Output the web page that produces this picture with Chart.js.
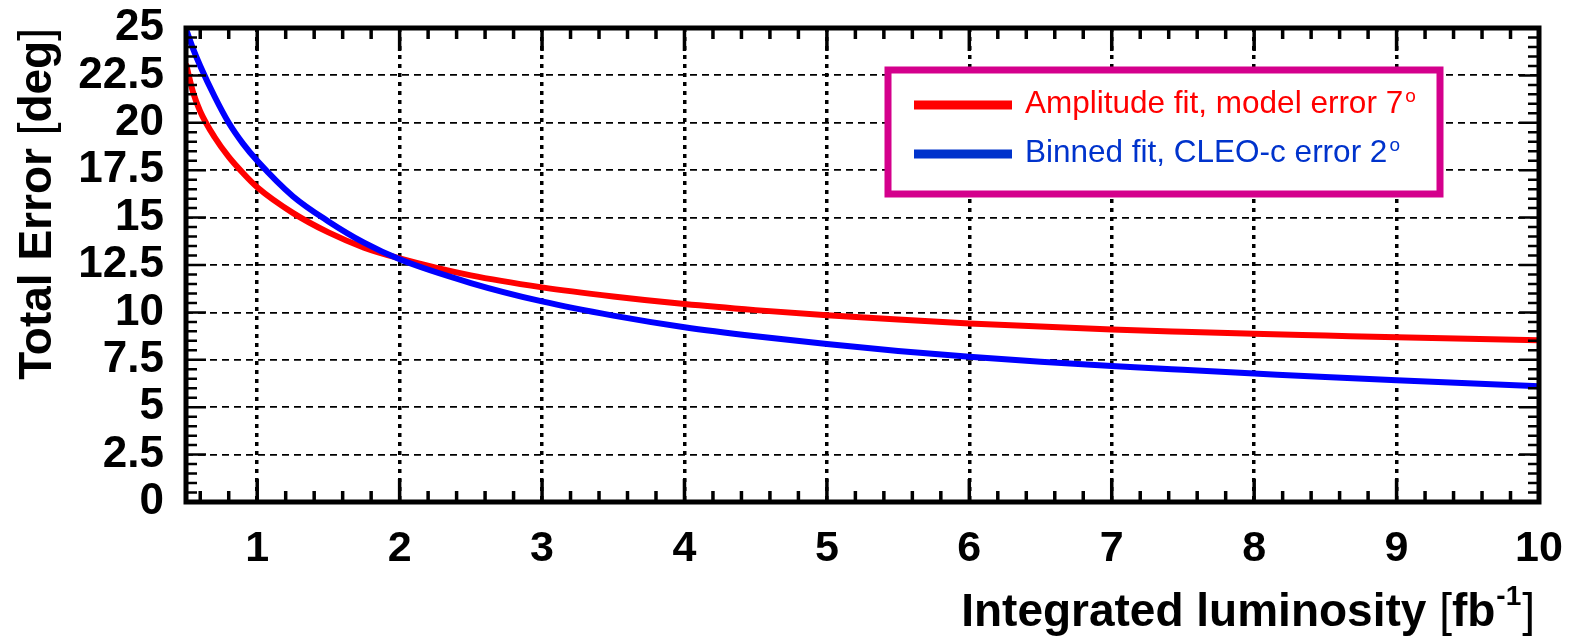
<!DOCTYPE html>
<html>
<head>
<meta charset="utf-8">
<script src="https://cdn.jsdelivr.net/npm/chart.js@4.4.0/dist/chart.umd.min.js"></script>
<style>
body{margin:0;background:#fff}
</style>
</head>
<body>
<canvas id="myChart" width="1569" height="636"></canvas>
<script>
// integrated luminosity [fb^-1]
var lumi = [0.5, 0.55, 0.6, 0.7, 0.8, 0.9, 1, 1.25, 1.5, 1.75, 2, 2.5, 3, 3.5, 4, 4.5, 5, 5.5, 6, 6.5, 7, 7.5, 8, 8.5, 9, 9.5, 10]
// total error [deg]
var amplitudeErr = [23.1, 21.6, 20.6, 19.25, 18.2, 17.35, 16.6, 15.25, 14.22, 13.42, 12.85, 11.95, 11.32, 10.84, 10.44, 10.12, 9.85, 9.62, 9.42, 9.25, 9.1, 8.98, 8.87, 8.78, 8.69, 8.61, 8.53]
var binnedErr = [24.95, 23.9, 23.0, 21.4, 20.0, 18.9, 18.0, 16.13, 14.8, 13.68, 12.8, 11.55, 10.58, 9.83, 9.22, 8.74, 8.33, 7.97, 7.66, 7.4, 7.17, 6.97, 6.78, 6.59, 6.42, 6.26, 6.1]

var xTicks = [1, 2, 3, 4, 5, 6, 7, 8, 9, 10]
var yTicks = [0, 2.5, 5, 7.5, 10, 12.5, 15, 17.5, 20, 22.5, 25]
var seriesNames = ["Amplitude fit, model error 7", "Binned fit, CLEO-c error 2"]
var seriesSup = ["o", "o"]
var seriesColors = ["#ff0000", "#0000ff"]
var legendColors = ["#ff0000", "#0033cc"]

var FONT = "'Liberation Sans', Arial, sans-serif"

function pts(xs, ys){
    var out = []
    for (var i = 0; i < xs.length; i++) out.push({x: xs[i], y: ys[i]})
    return out
}

// frame with ROOT-like minor/major ticks on all four sides
var framePlugin = {
    id: 'frame',
    afterDatasetsDraw: function(chart){
        var ctx = chart.ctx, a = chart.chartArea
        var xs = chart.scales.x, ys = chart.scales.y
        ctx.save()
        ctx.strokeStyle = '#000'
        ctx.lineCap = 'butt'
        ctx.lineWidth = 3.5
        for (var i = 3; i < 50; i++){
            var px = xs.getPixelForValue(i / 5)
            var len = (i % 5 == 0) ? 23 : 11
            ctx.beginPath()
            ctx.moveTo(px, a.bottom); ctx.lineTo(px, a.bottom - len)
            ctx.moveTo(px, a.top); ctx.lineTo(px, a.top + len)
            ctx.stroke()
        }
        ctx.lineWidth = 2.5
        for (var j = 1; j < 50; j++){
            var py = ys.getPixelForValue(j * 0.5)
            var l2 = (j % 5 == 0) ? 20 : 11
            ctx.beginPath()
            ctx.moveTo(a.left, py); ctx.lineTo(a.left + l2, py)
            ctx.moveTo(a.right, py); ctx.lineTo(a.right - l2, py)
            ctx.stroke()
        }
        ctx.lineWidth = 5
        ctx.strokeRect(a.left, a.top, a.right - a.left, a.bottom - a.top)
        ctx.restore()
    }
}

// boxed legend in the upper right
var boxLegend = {
    id: 'boxLegend',
    afterDraw: function(chart){
        var ctx = chart.ctx
        ctx.save()
        ctx.fillStyle = '#fff'
        ctx.fillRect(888, 70, 552, 124)
        ctx.strokeStyle = '#d4008c'
        ctx.lineWidth = 7
        ctx.strokeRect(888, 70, 552, 124)
        var rows = [105, 154]
        chart.data.datasets.forEach(function(ds, i){
            var y = rows[i]
            ctx.strokeStyle = legendColors[i]
            ctx.lineWidth = 9
            ctx.beginPath(); ctx.moveTo(914, y); ctx.lineTo(1012, y); ctx.stroke()
            ctx.fillStyle = legendColors[i]
            ctx.textBaseline = 'alphabetic'
            ctx.textAlign = 'left'
            ctx.font = "31.5px " + FONT
            ctx.fillText(ds.label, 1025, y + 8)
            var w = ctx.measureText(ds.label).width
            ctx.font = "19px " + FONT
            ctx.fillText(seriesSup[i], 1025 + w + 2, y - 3)
        })
        ctx.restore()
    }
}

// axis titles, with thin brackets and a superscript like the original
var axisTitles = {
    id: 'axisTitles',
    afterDraw: function(chart){
        var ctx = chart.ctx, a = chart.chartArea
        var bold = "bold 46px " + FONT, thin = "46px " + FONT, sup = "bold 28px " + FONT
        ctx.save()
        ctx.fillStyle = '#000'
        ctx.textBaseline = 'alphabetic'
        ctx.textAlign = 'left'

        // x title, right aligned to the frame
        var parts = [["Integrated luminosity ", bold, 0], ["[", thin, 0], ["fb", bold, 0], ["-1", sup, -21], ["]", thin, 0]]
        var total = 0
        parts.forEach(function(p){ ctx.font = p[1]; total += ctx.measureText(p[0]).width + (p[2] ? 2 : 0) })
        var x = a.right - 4 - total
        parts.forEach(function(p){
            ctx.font = p[1]
            ctx.fillText(p[0], x + (p[2] ? 1 : 0), 626 + p[2])
            x += ctx.measureText(p[0]).width + (p[2] ? 2 : 0)
        })

        // y title, rotated, ending at the top of the frame
        var yparts = [["Total Error ", bold], ["[", thin], ["deg", bold], ["]", thin]]
        var tw = 0
        yparts.forEach(function(p){ ctx.font = p[1]; tw += ctx.measureText(p[0]).width })
        ctx.translate(51, a.top)
        ctx.rotate(-Math.PI / 2)
        var yx = -tw
        yparts.forEach(function(p){
            ctx.font = p[1]
            ctx.fillText(p[0], yx, 0)
            yx += ctx.measureText(p[0]).width
        })
        ctx.restore()
    }
}

var myChart = document.getElementById("myChart").getContext('2d')
var chart = new Chart(myChart, {
    type: 'line',
    data: {
        datasets: [
            {
                label: seriesNames[0],
                data: pts(lumi, amplitudeErr),
                borderColor: seriesColors[0],
                borderWidth: 6,
                pointRadius: 0,
                cubicInterpolationMode: 'monotone',
                fill: false,
                order: 2
            },
            {
                label: seriesNames[1],
                data: pts(lumi, binnedErr),
                borderColor: seriesColors[1],
                borderWidth: 6,
                pointRadius: 0,
                cubicInterpolationMode: 'monotone',
                fill: false,
                order: 1
            }
        ]
    },
    options: {
        responsive: false,
        animation: false,
        devicePixelRatio: 1,
        layout: {padding: {top: 28, right: 30, left: 0, bottom: 0}},
        plugins: {legend: {display: false}, tooltip: {enabled: false}},
        scales: {
            x: {
                type: 'linear',
                min: 0.5,
                max: 10,
                afterBuildTicks: function(scale){ scale.ticks = xTicks.map(function(v){ return {value: v} }) },
                afterFit: function(scale){
                    scale.height = 134
                    scale.paddingLeft = 0
                    scale.paddingRight = 0
                },
                grid: {
                    drawTicks: false,
                    lineWidth: 3.5,
                    color: function(c){ return (c.tick && c.tick.value < 10) ? '#000' : 'rgba(0,0,0,0)' }
                },
                border: {display: false, dash: [4, 5]},
                ticks: {
                    color: '#000',
                    padding: 21,
                    autoSkip: false,
                    maxRotation: 0,
                    font: {family: FONT, size: 43, weight: 'bold'},
                    callback: function(v){ return String(v) }
                }
            },
            y: {
                min: 0,
                max: 25,
                afterBuildTicks: function(scale){ scale.ticks = yTicks.map(function(v){ return {value: v} }) },
                afterFit: function(scale){
                    scale.width = 186
                    scale.paddingTop = 0
                    scale.paddingBottom = 0
                },
                grid: {
                    drawTicks: false,
                    lineWidth: 1.8,
                    color: function(c){ return (c.tick && c.tick.value > 0 && c.tick.value < 25) ? '#000' : 'rgba(0,0,0,0)' }
                },
                border: {display: false, dash: [7, 5]},
                ticks: {
                    color: '#000',
                    padding: 22,
                    autoSkip: false,
                    font: {family: FONT, size: 44, weight: 'bold'},
                    callback: function(v){ return String(v) }
                }
            }
        }
    },
    plugins: [framePlugin, boxLegend, axisTitles]
})
</script>
</body>
</html>
